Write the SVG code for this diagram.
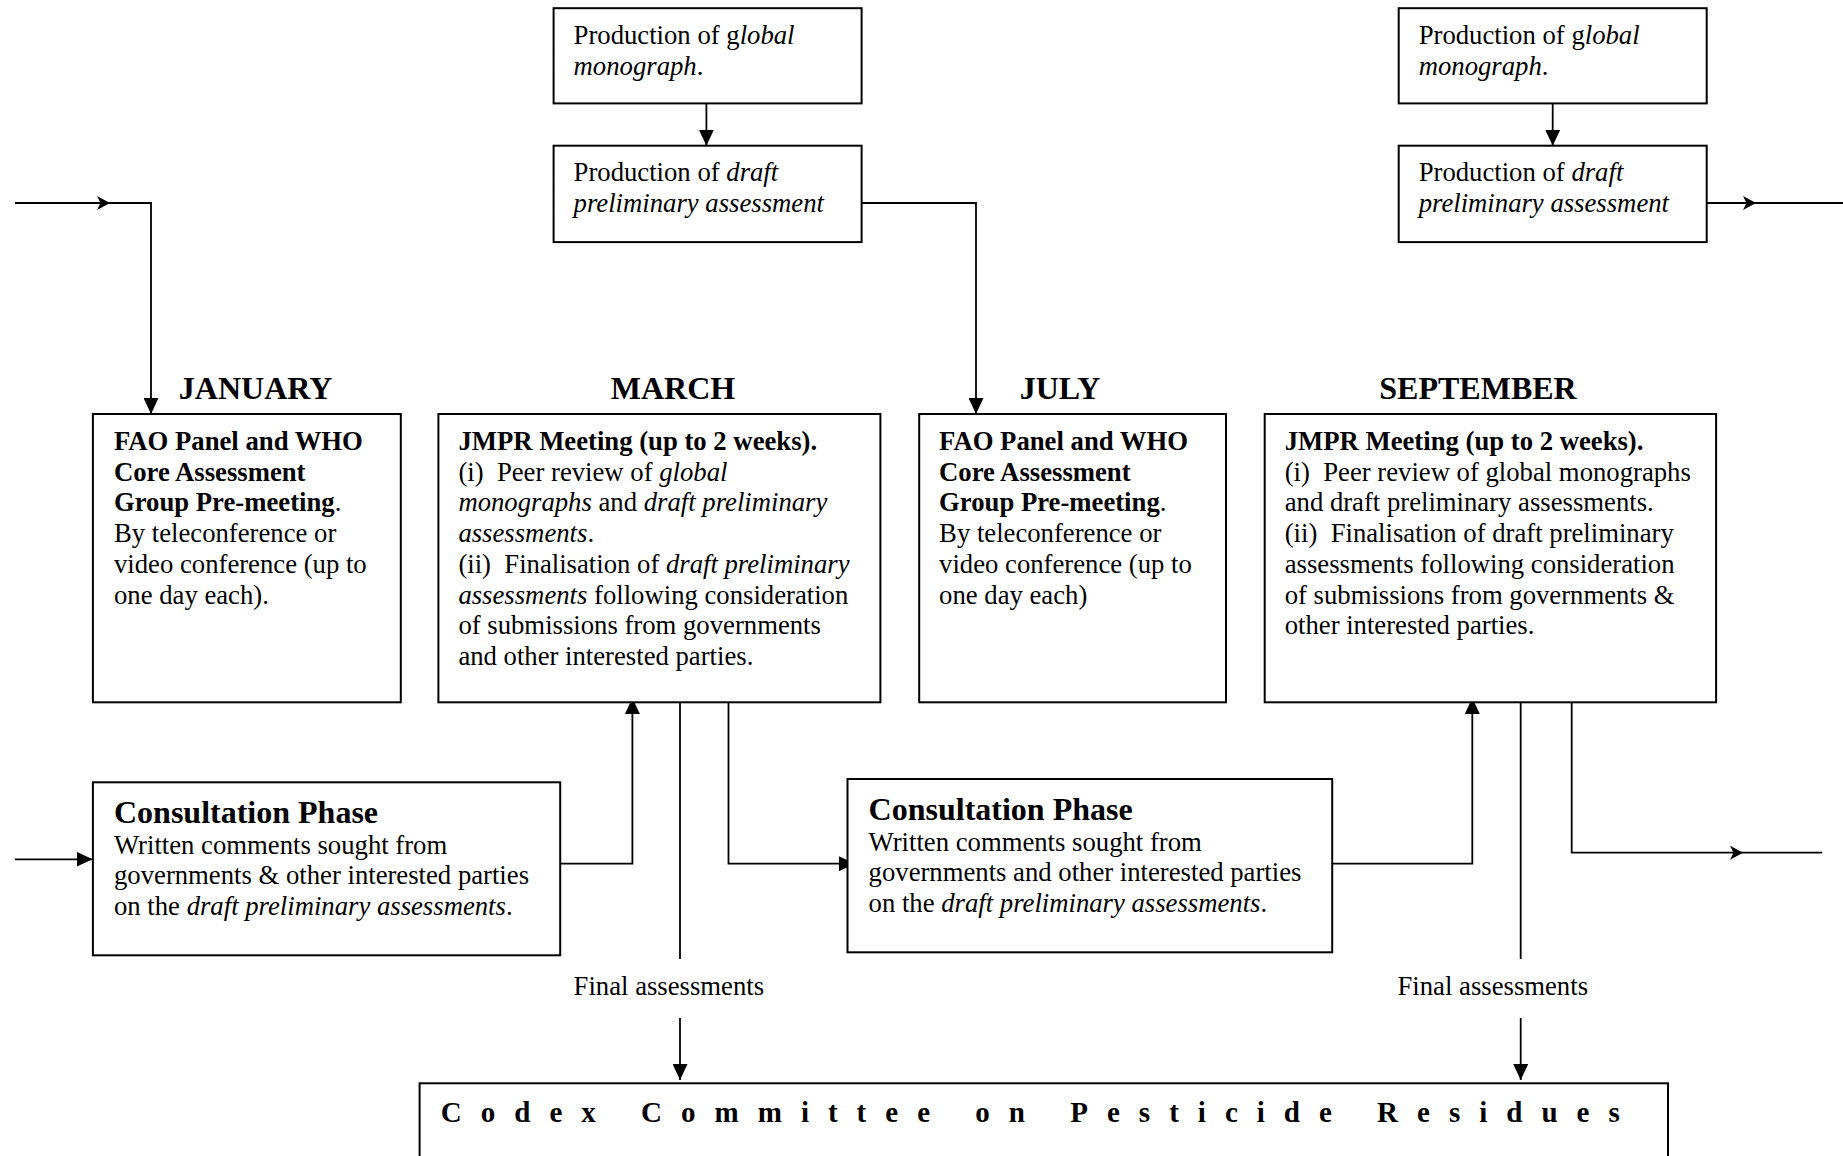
<svg xmlns="http://www.w3.org/2000/svg" width="1843" height="1156" viewBox="0 0 1843 1156">
<style>
text { font-family: "Liberation Serif", "Times New Roman", serif; font-size: 26.7px; fill: #000; white-space: pre; }
.b { font-weight: bold; }
.i { font-style: italic; }
.mon { font-size: 32px; font-weight: bold; text-anchor: middle; }
.hd { font-size: 32px; font-weight: bold; }
.codex { font-size: 29px; font-weight: bold; }
.box { fill: #fff; stroke: #000; stroke-width: 2; }
#connectors path { fill: none; stroke: #000; stroke-width: 1.8; }
.ta { marker-end: url(#tri); }
.ba { marker-end: url(#barb); }
</style>
<defs>
<marker id="tri" viewBox="0 0 16 15" refX="16" refY="7.5" markerWidth="16" markerHeight="15" orient="auto" markerUnits="userSpaceOnUse">
<path d="M0,0 L16,7.5 L0,15 Z" fill="#000"/>
</marker>
<marker id="barb" viewBox="0 0 14 14" refX="13" refY="7" markerWidth="14" markerHeight="14" orient="auto" markerUnits="userSpaceOnUse">
<path d="M0,0 L13,7 L0,14 L3.5,7 Z" fill="#000"/>
</marker>
</defs>
<rect width="1843" height="1156" fill="#fff"/>

<g id="connectors">
<path class="ba" d="M15,203 H110"/>
<path class="ta" d="M110,203 H151 V414"/>
<path class="ta" d="M706.4,103.4 V145.7"/>
<path class="ta" d="M861.6,203 H976 V414"/>
<path class="ta" d="M1552.7,103.4 V145.7"/>
<path class="ba" d="M1706.7,203 H1756"/>
<path d="M1756,203 H1843"/>
<path class="ta" d="M15,859.3 H92.5"/>
<path class="ta" d="M560,863.7 H632.4 V698"/>
<path d="M680,695 V959"/>
<path class="ta" d="M680,1018 V1080"/>
<path class="ta" d="M728.5,695 V863.7 H855"/>
<path class="ta" d="M1331.7,863.7 H1472.3 V698"/>
<path d="M1520.7,695 V959"/>
<path class="ta" d="M1520.7,1018 V1080"/>
<path class="ba" d="M1571.7,702.3 V852.7 H1743"/>
<path d="M1743,852.7 H1822.3"/>
</g>

<g id="labels">
<text x="573.6" y="995">Final assessments</text>
<text x="1397.5" y="995">Final assessments</text>
<text class="mon" x="255.6" y="399">JANUARY</text>
<text class="mon" x="673" y="399">MARCH</text>
<text class="mon" x="1060" y="399">JULY</text>
<text class="mon" x="1478" y="399">SEPTEMBER</text>
</g>

<g id="top-global-1">
<rect class="box" x="553.6" y="8.2" width="308" height="95.2"/>
<text x="573.6" y="44">Production of g<tspan class="i">lobal</tspan></text>
<text x="573.6" y="74.7"><tspan class="i">monograph</tspan>.</text>
</g>
<g id="top-draft-1">
<rect class="box" x="553.6" y="145.7" width="308" height="96.4"/>
<text x="573.6" y="181">Production of <tspan class="i">draft</tspan></text>
<text x="573.6" y="211.7" class="i">preliminary assessment</text>
</g>
<g id="top-global-2">
<rect class="box" x="1398.7" y="8.2" width="308" height="95.2"/>
<text x="1418.7" y="44">Production of g<tspan class="i">lobal</tspan></text>
<text x="1418.7" y="74.7"><tspan class="i">monograph</tspan>.</text>
</g>
<g id="top-draft-2">
<rect class="box" x="1398.7" y="145.7" width="308" height="96.4"/>
<text x="1418.7" y="181">Production of <tspan class="i">draft</tspan></text>
<text x="1418.7" y="211.7" class="i">preliminary assessment</text>
</g>

<g id="jan-premeeting">
<rect class="box" x="92.9" y="414" width="307.9" height="288.3"/>
<text x="114" y="450" class="b">FAO Panel and WHO</text>
<text x="114" y="480.7" class="b">Core Assessment</text>
<text x="114" y="511.4"><tspan class="b">Group Pre-meeting</tspan>.</text>
<text x="114" y="542.1">By teleconference or</text>
<text x="114" y="572.8">video conference (up to</text>
<text x="114" y="603.5">one day each).</text>
</g>

<g id="march-jmpr">
<rect class="box" x="438.4" y="414" width="442" height="288.3"/>
<text x="458.4" y="450" class="b">JMPR Meeting (up to 2 weeks).</text>
<text x="458.4" y="480.7">(i)  Peer review of <tspan class="i">global</tspan></text>
<text x="458.4" y="511.4"><tspan class="i">monographs</tspan> and <tspan class="i">draft preliminary</tspan></text>
<text x="458.4" y="542.1"><tspan class="i">assessments</tspan>.</text>
<text x="458.4" y="572.8">(ii)  Finalisation of <tspan class="i">draft preliminary</tspan></text>
<text x="458.4" y="603.5"><tspan class="i">assessments</tspan> following consideration</text>
<text x="458.4" y="634.2">of submissions from governments</text>
<text x="458.4" y="664.9">and other interested parties.</text>
</g>

<g id="july-premeeting">
<rect class="box" x="919.2" y="414" width="306.8" height="288.3"/>
<text x="939.1" y="450" class="b">FAO Panel and WHO</text>
<text x="939.1" y="480.7" class="b">Core Assessment</text>
<text x="939.1" y="511.4"><tspan class="b">Group Pre-meeting</tspan>.</text>
<text x="939.1" y="542.1">By teleconference or</text>
<text x="939.1" y="572.8">video conference (up to</text>
<text x="939.1" y="603.5">one day each)</text>
</g>

<g id="september-jmpr">
<rect class="box" x="1264.7" y="414" width="451.4" height="288.3"/>
<text x="1284.7" y="450" class="b">JMPR Meeting (up to 2 weeks).</text>
<text x="1284.7" y="480.7">(i)  Peer review of global monographs</text>
<text x="1284.7" y="511.4">and draft preliminary assessments.</text>
<text x="1284.7" y="542.1">(ii)  Finalisation of draft preliminary</text>
<text x="1284.7" y="572.8">assessments following consideration</text>
<text x="1284.7" y="603.5">of submissions from governments &amp;</text>
<text x="1284.7" y="634.2">other interested parties.</text>
</g>

<g id="consultation-1">
<rect class="box" x="92.9" y="782.3" width="467.3" height="173"/>
<text x="114" y="823" class="hd">Consultation Phase</text>
<text x="114" y="853.5">Written comments sought from</text>
<text x="114" y="884.2">governments &amp; other interested parties</text>
<text x="114" y="914.9">on the <tspan class="i">draft preliminary assessments</tspan>.</text>
</g>

<g id="consultation-2">
<rect class="box" x="847.5" y="779" width="484.7" height="173.3"/>
<text x="868.6" y="820" class="hd">Consultation Phase</text>
<text x="868.6" y="850.7">Written comments sought from</text>
<text x="868.6" y="881.4">governments and other interested parties</text>
<text x="868.6" y="912.1">on the <tspan class="i">draft preliminary assessments</tspan>.</text>
</g>

<g id="codex">
<rect class="box" x="419.6" y="1083.3" width="1248.4" height="120"/>
<text x="440.8" y="1122" class="codex" textLength="1179" lengthAdjust="spacing">Codex Committee on Pesticide Residues</text>
</g>
</svg>
